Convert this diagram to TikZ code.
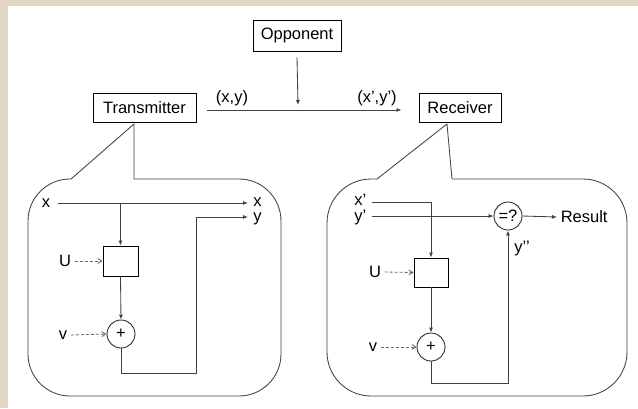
\documentclass[tikz,border=0pt]{standalone}
\usepackage{fontspec}
\setmainfont{Liberation Sans}
\usepackage{xcolor}
\usepackage{tikz}
\usetikzlibrary{arrows.meta,positioning,calc}
\definecolor{framebeige}{RGB}{225,215,196}
\definecolor{linegray}{RGB}{65,65,65}
\definecolor{dashgray}{RGB}{105,105,105}

\begin{document}
\begin{tikzpicture}[x=1pt,y=-1pt,>={Latex[length=5pt,width=4pt]},line width=0.85pt,every node/.style={font=\fontsize{16.5}{19}\selectfont}]
\tikzstyle{blk}=[draw=black,inner sep=0pt,minimum height=29pt]
\tikzstyle{sumc}=[circle,draw=black!85,inner sep=0pt,minimum size=28pt]
\tikzstyle{lbl}=[inner sep=0pt]
\tikzstyle{conn}=[->,draw=linegray]
\tikzstyle{dconn}=[-{Straight Barb[length=4pt,width=5pt]},draw=dashgray,dash pattern=on 3pt off 2pt]
\tikzstyle{bubble}=[draw=linegray,line join=round]
% frame
\fill[framebeige] (0,0) rectangle (638,408);
\fill[white] (8,6) rectangle (638,408);
\useasboundingbox (0,0) rectangle (638,408);
% top level
\node[blk,minimum width=88pt,minimum height=31pt] (opp) at (297,35.5) {Opponent};
\node[blk,minimum width=103pt] (tx) at (144.5,107.5) {Transmitter};
\node[blk,minimum width=82pt] (rx) at (460,107.5) {Receiver};
\coordinate (hit) at (298,105);
\draw[conn] ([yshift=-6pt]opp.south) -- (hit);
\draw[conn] ([xshift=11pt,yshift=-2.5pt]tx.east) -- ([xshift=-17pt,yshift=-2.5pt]rx.west);
\node (lxy) at (232,98) {(x,y)};
\node (lxy2) at (377,98) {(x’,y’)};
% left bubble
\draw[bubble,rounded corners=42pt] (134,179) -- (281,179) -- (281,396) -- (28,396) -- (28,179) -- (71,179);
\draw[bubble] (71,179) -- (134,124) -- (134,179);
\node[lbl] (xin1) at (46,203) {x};
\node[lbl,anchor=west] (xout1) at (253,202) {x};
\node[lbl,anchor=west] (yout1) at (253,219) {y};
\node[blk,minimum width=35pt,minimum height=30pt] (hb1) at (120.5,261) {};
\node[sumc] (s1) at (121,334) {+};
\node (u1) at (65,261) {U};
\node (v1) at (63,335) {v};
\coordinate (k1) at (196,373);
\draw[conn] ([xshift=7pt]xin1.east) -- ([xshift=-5pt,yshift=-1pt]xout1.west);
\draw[conn] (xin1.east -| hb1.north) -- (hb1.north);
\draw[conn] (hb1.south) -- (s1.north);
\draw[dconn] (u1.east) -- (hb1.west);
\draw[dconn] (v1.east) -- (s1.west);
\draw[conn] (s1.south) |- (k1) |- ([xshift=-5pt,yshift=2pt]yout1.west);
% right bubble
\draw[bubble,rounded corners=44pt] (452,179) -- (627,179) -- (627,396) -- (327,396) -- (327,179) -- (377,179);
\draw[bubble] (377,179) -- (447,124) -- (452,179);
\node[lbl,anchor=west] (xin2) at (354,200) {x’};
\node[lbl,anchor=west] (yin2) at (354,218) {y’};
\node[sumc] (cmp) at (508,216) {=?};
\node[anchor=west] (res) at (557,217) {Result};
\node[blk,minimum width=34pt,minimum height=29pt] (hb2) at (431,272.5) {};
\node[sumc] (s2) at (431,347) {+};
\node (u2) at (375,272) {U};
\node (v2) at (373,347) {v};
\node[lbl,anchor=west] (ypp) at (514,249) {y’’};
\coordinate (k2) at (508,383);
\draw[conn] ([xshift=5pt,yshift=-2pt]xin2.east) -| (hb2.north);
\draw[conn] (cmp.west -| {$(yin2.east)+(5,0)$}) -- (cmp.west);
\draw[conn] (cmp.east) -- (res.west);
\draw[conn] (hb2.south) -- (s2.north);
\draw[dconn] (u2.east) -- (hb2.west);
\draw[dconn] (v2.east) -- (s2.west);
\draw[conn] (s2.south) |- (k2) -- (cmp.south);
\end{tikzpicture}
\end{document}
